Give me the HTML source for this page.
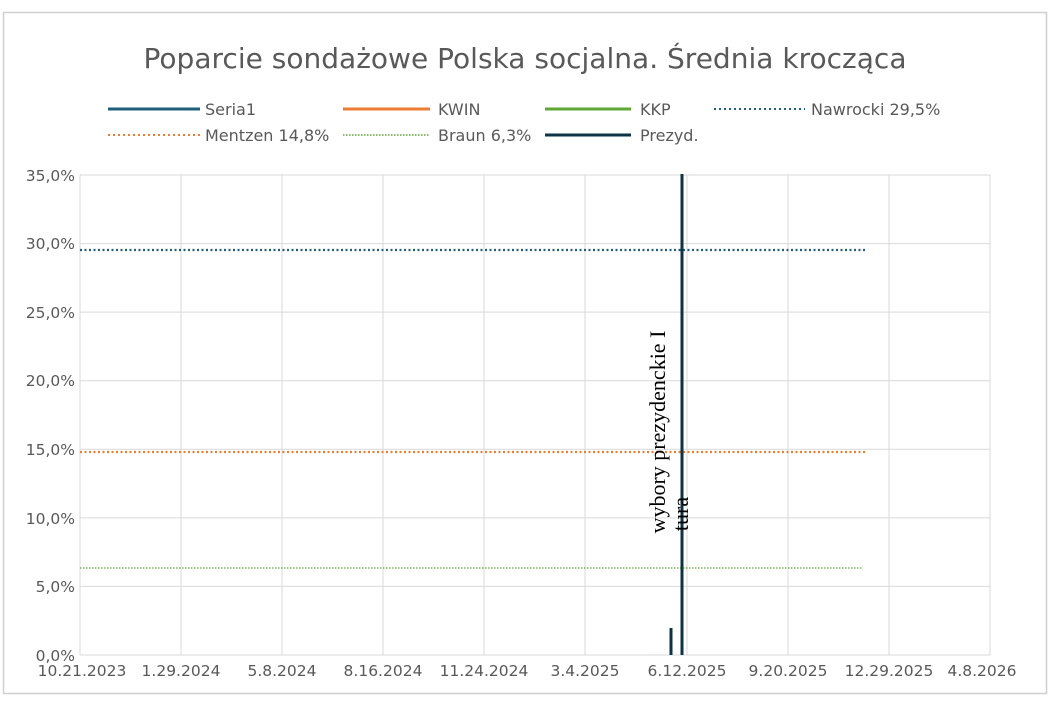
<!DOCTYPE html>
<html><head><meta charset="utf-8"><style>
body{margin:0;background:#fff;}
.s{font-family:"DejaVu Sans","Liberation Sans",sans-serif;}
</style></head><body>
<svg width="1053" height="710" xmlns="http://www.w3.org/2000/svg">
<rect x="0" y="0" width="1053" height="710" fill="#fff"/>
<rect x="3.5" y="12.5" width="1043" height="681" fill="#fff" stroke="#d0d0d0" stroke-width="1.5"/>
<text class="s" x="525" y="68" font-size="27.5" fill="#595959" text-anchor="middle" textLength="763" lengthAdjust="spacingAndGlyphs">Poparcie sondażowe Polska socjalna. Średnia krocząca</text>
<g class="s" font-size="16" fill="#595959">
<line x1="108" y1="109" x2="200" y2="109" stroke="#1f5f7a" stroke-width="3"/><text x="205" y="115">Seria1</text>
<line x1="343" y1="109" x2="430" y2="109" stroke="#ed7d31" stroke-width="3"/><text x="438" y="115">KWIN</text>
<line x1="545" y1="109" x2="631" y2="109" stroke="#5ea835" stroke-width="3"/><text x="640" y="115">KKP</text>
<line x1="714" y1="109" x2="805" y2="109" stroke="#1f5f7a" stroke-width="2" stroke-dasharray="2,3"/><text x="811" y="115">Nawrocki 29,5%</text>
<line x1="108" y1="135" x2="200" y2="135" stroke="#ed7d31" stroke-width="2" stroke-dasharray="2,3"/><text x="205" y="141">Mentzen 14,8%</text>
<line x1="343" y1="135" x2="430" y2="135" stroke="#5ea835" stroke-width="1.5" stroke-dasharray="1.5,1.5"/><text x="438" y="141">Braun 6,3%</text>
<line x1="545" y1="135" x2="631" y2="135" stroke="#0e3347" stroke-width="3"/><text x="640" y="141">Prezyd.</text>
</g>
<g stroke="#d9d9d9" stroke-width="1">
<line x1="80" y1="175" x2="990" y2="175"/><line x1="80" y1="243.6" x2="990" y2="243.6"/>
<line x1="80" y1="312.1" x2="990" y2="312.1"/><line x1="80" y1="380.7" x2="990" y2="380.7"/>
<line x1="80" y1="449.3" x2="990" y2="449.3"/><line x1="80" y1="517.9" x2="990" y2="517.9"/>
<line x1="80" y1="586.4" x2="990" y2="586.4"/>
<line x1="80" y1="175" x2="80" y2="655"/><line x1="181" y1="175" x2="181" y2="655"/>
<line x1="282" y1="175" x2="282" y2="655"/><line x1="383" y1="175" x2="383" y2="655"/>
<line x1="484" y1="175" x2="484" y2="655"/><line x1="585" y1="175" x2="585" y2="655"/>
<line x1="687" y1="175" x2="687" y2="655"/><line x1="788" y1="175" x2="788" y2="655"/>
<line x1="889" y1="175" x2="889" y2="655"/><line x1="990" y1="175" x2="990" y2="655"/>
<line x1="80" y1="655" x2="990" y2="655"/>
</g>
<g class="s" font-size="15.5" fill="#595959" text-anchor="end">
<text x="75" y="181">35,0%</text><text x="75" y="249">30,0%</text><text x="75" y="318">25,0%</text>
<text x="75" y="386">20,0%</text><text x="75" y="455">15,0%</text><text x="75" y="524">10,0%</text>
<text x="75" y="592">5,0%</text><text x="75" y="661">0,0%</text>
</g>
<g class="s" font-size="15.5" fill="#595959" text-anchor="middle">
<text x="82" y="676">10.21.2023</text><text x="181" y="676">1.29.2024</text><text x="282" y="676">5.8.2024</text>
<text x="383" y="676">8.16.2024</text><text x="484" y="676">11.24.2024</text><text x="585" y="676">3.4.2025</text>
<text x="687" y="676">6.12.2025</text><text x="788" y="676">9.20.2025</text><text x="889" y="676">12.29.2025</text>
<text x="982" y="676">4.8.2026</text>
</g>
<line x1="80" y1="250" x2="865" y2="250" stroke="#1f5f7a" stroke-width="2.2" stroke-dasharray="2,2.5"/>
<line x1="80" y1="452" x2="865" y2="452" stroke="#ed7d31" stroke-width="2.2" stroke-dasharray="2,2.5"/>
<line x1="80" y1="568" x2="862" y2="568" stroke="#5ea835" stroke-width="1.3" stroke-dasharray="1.5,1.5"/>
<line x1="671" y1="628" x2="671" y2="655" stroke="#0e3347" stroke-width="3"/>
<line x1="682" y1="174" x2="682" y2="655" stroke="#0e3347" stroke-width="3"/>
<g style="font-family:'Liberation Serif',serif" font-size="22" fill="#000" text-anchor="middle">
<text transform="translate(665,432) rotate(-90)">wybory prezydenckie I</text>
<text transform="translate(688,514) rotate(-90)">tura</text>
</g>
</svg>
</body></html>
